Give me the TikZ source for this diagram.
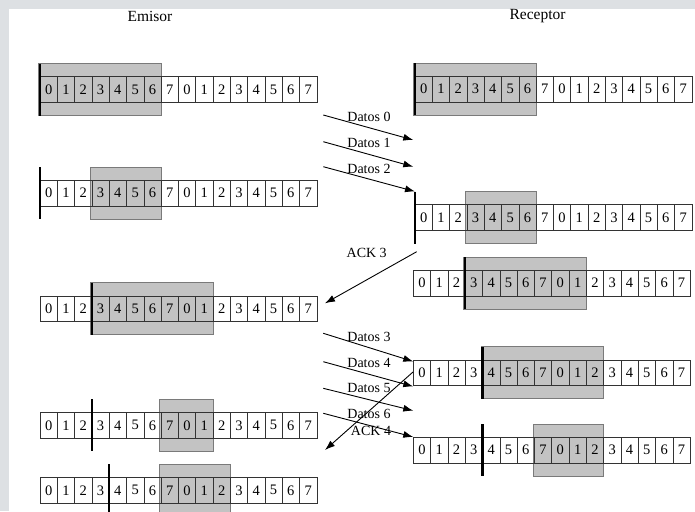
\documentclass[tikz,border=0pt]{standalone}
\usepackage{fontspec}
\setmainfont{Liberation Serif}
\usetikzlibrary{arrows.meta}
\definecolor{slidebg}{HTML}{DDE0E3}
\definecolor{gfill}{HTML}{C3C3C3}
\definecolor{gedge}{HTML}{7A7A7A}
\tikzset{
  cell/.style={draw=black!80, line width=0.6pt, minimum width=17.3pt, minimum height=25.6pt, inner sep=0pt, font=\fontsize{14.5}{14.5}\selectfont, text=black},
  gbox/.style={fill=gfill, draw=gedge, line width=0.8pt},
  wbar/.style={line width=2.4pt, black},
  msg/.style={line width=0.9pt, -{Latex[length=10pt,width=7pt]}},
  lbl/.style={font=\fontsize{14}{14}\selectfont, text=black, inner sep=0pt},
  hdr/.style={font=\fontsize{15.5}{15.5}\selectfont, text=black, inner sep=0pt}
}
% name, x-left, y-centre, grey from, grey to (exclusive), window bar cell
\newcommand\seqrow[6]{%
  \draw[gbox] ({#2+#4*17.3-1.5},{#3-26}) rectangle ({#2+#5*17.3},{#3+26});
  \foreach \i in {0,...,15}{%
    \pgfmathtruncatemacro\dig{mod(\i,8)}%
    \node[cell] (#1-\i) at ({#2+(\i+0.5)*17.3},#3) {\dig};}
  \draw[wbar] ({#2+#6*17.3},{#3-26}) coordinate (#1-bt) -- ({#2+#6*17.3},{#3+26}) coordinate (#1-bb);
}
\begin{document}
\begin{tikzpicture}[x=1pt,y=-1pt]
\useasboundingbox (0,0) rectangle (695,511);
\fill[slidebg] (0,0) rectangle (695,511);
\fill[white] (9,9) rectangle (695,511);

\node[hdr] (emisor) at (150,16.5) {Emisor};
\node[hdr] (receptor) at (537.5,16.5) {Receptor};

% Emisor rows
\seqrow{e1}{40}{89.5}{0}{7}{0}
\seqrow{e2}{40}{193}{3}{7}{0}
\seqrow{e3}{40}{308.7}{3}{10}{3}
\seqrow{e4}{40}{425.3}{7}{10}{3}
\seqrow{e5}{40}{490.3}{7}{11}{4}

% Receptor rows
\seqrow{r1}{415}{89}{0}{7}{0}
\seqrow{r2}{415}{217.5}{3}{7}{0}
\seqrow{r3}{413.3}{283}{3}{10}{3}
\seqrow{r4}{413.3}{372.8}{4}{11}{4}
\seqrow{r5}{413.3}{450}{7}{11}{4}

% message end points
\coordinate (s0) at (323.3,115);   \coordinate (t0) at (413.3,140);
\coordinate (s1) at (323.3,141.7); \coordinate (t1) at (413.3,166.7);
\coordinate (s2) at (323.3,166.7);
\coordinate (a3s) at (416.7,251.7); \coordinate (a3t) at (325,303.3);
\coordinate (s3) at (323.3,333.3); \coordinate (t3) at (413.3,361.5);
\coordinate (s4) at (323.3,361.7); \coordinate (t4) at (413.3,386.5);
\coordinate (s5) at (323.3,388.3); \coordinate (t5) at (413.3,410.7);
\coordinate (s6) at (323.3,413.3); \coordinate (t6) at (413.3,437);
\coordinate (a4s) at (413,372); \coordinate (a4t) at (325,450);

\draw[msg] (s0) -- (t0);
\draw[msg] (s1) -- (t1);
\draw[msg] (s2) -- (r2-bt);
\draw[msg] (a3s) -- (a3t);
\draw[msg] (s3) -- (t3);
\draw[msg] (s4) -- (t4);
\draw[msg] (s5) -- (t5);
\draw[msg] (s6) -- (t6);
\draw[msg] (a4s) -- (a4t);

\node[lbl] (l0) at (369,116.5) {Datos 0};
\node[lbl] (l1) at (369,143) {Datos 1};
\node[lbl] (l2) at (369,169) {Datos 2};
\node[lbl] (l3a) at (366.7,253) {ACK 3};
\node[lbl] (l3) at (369,337) {Datos 3};
\node[lbl] (l4) at (369,362.5) {Datos 4};
\node[lbl] (l5) at (369,388) {Datos 5};
\node[lbl] (l6) at (369,413.5) {Datos 6};
\node[lbl] (l4a) at (371,431) {ACK 4};
\end{tikzpicture}
\end{document}
